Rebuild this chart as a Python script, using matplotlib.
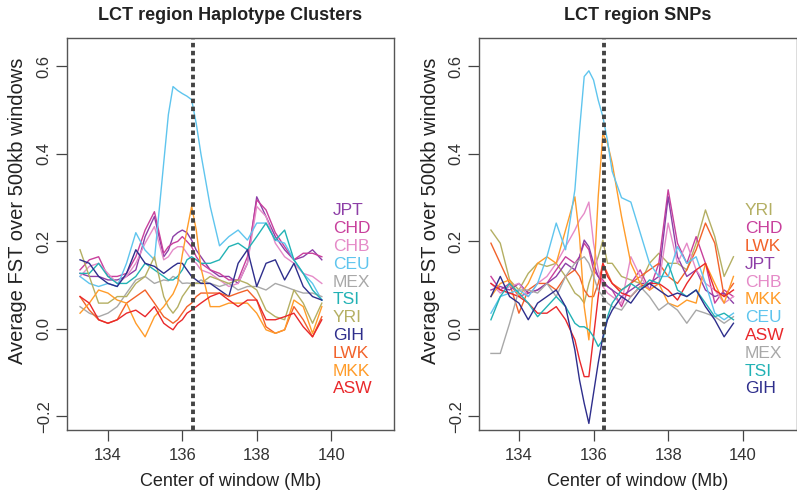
import matplotlib
matplotlib.use("Agg")
import matplotlib.pyplot as plt

plt.rcParams['font.family'] = ['Liberation Sans', 'DejaVu Sans']

# Centro de ventana (Mb), comun a todas las series
centro = [133.25, 133.5, 133.75, 134.0, 134.25, 134.5, 134.75, 135.0, 135.25, 135.5,
          135.625, 135.75, 135.875, 136.0, 136.125, 136.25, 136.375, 136.5,
          136.75, 137.0, 137.25, 137.5, 137.75, 138.0, 138.25, 138.5, 138.75,
          139.0, 139.25, 139.5, 139.75]

lct = 136.28  # posicion del gen LCT (linea discontinua)

# ------------------- Haplotype Clusters (panel izquierdo) -------------------
hap_jpt = [0.127, 0.120, 0.120, 0.112, 0.112, 0.120, 0.135, 0.211, 0.257, 0.165,
           0.180, 0.211, 0.220, 0.226, 0.220, 0.203, 0.180, 0.165,
           0.135, 0.120, 0.120, 0.104, 0.150, 0.302, 0.257, 0.211, 0.181, 0.158, 0.165, 0.181, 0.158]
hap_chd = [0.135, 0.158, 0.165, 0.120, 0.120, 0.127, 0.165, 0.226, 0.268, 0.173,
           0.188, 0.196, 0.200, 0.211, 0.200, 0.188, 0.165, 0.150,
           0.135, 0.127, 0.112, 0.112, 0.165, 0.295, 0.272, 0.220, 0.188, 0.158, 0.173, 0.173, 0.165]
hap_chb = [0.120, 0.143, 0.150, 0.127, 0.104, 0.120, 0.150, 0.196, 0.234, 0.158,
           0.165, 0.181, 0.188, 0.188, 0.173, 0.158, 0.150, 0.135,
           0.127, 0.112, 0.097, 0.104, 0.150, 0.280, 0.257, 0.196, 0.165, 0.150, 0.127, 0.120, 0.104]
hap_ceu = [0.120, 0.104, 0.097, 0.104, 0.097, 0.150, 0.220, 0.180, 0.158, 0.380,
           0.490, 0.554, 0.545, 0.538, 0.532, 0.524, 0.469, 0.400,
           0.280, 0.190, 0.211, 0.226, 0.203, 0.242, 0.242, 0.203, 0.196, 0.158, 0.127, 0.104, 0.066]
hap_mex = [0.051, 0.036, 0.028, 0.036, 0.051, 0.082, 0.112, 0.120, 0.104, 0.112,
           0.110, 0.120, 0.115, 0.104, 0.105, 0.104, 0.105, 0.112,
           0.104, 0.097, 0.104, 0.089, 0.097, 0.097, 0.089, 0.104, 0.097, 0.089, 0.082, 0.082, 0.074]
hap_tsi = [0.127, 0.127, 0.150, 0.120, 0.104, 0.104, 0.120, 0.150, 0.135, 0.120,
           0.112, 0.112, 0.120, 0.135, 0.158, 0.165, 0.158, 0.150,
           0.150, 0.158, 0.188, 0.196, 0.181, 0.211, 0.242, 0.203, 0.226, 0.158, 0.127, 0.089, 0.066]
hap_yri = [0.181, 0.120, 0.059, 0.059, 0.074, 0.074, 0.104, 0.120, 0.165, 0.074,
           0.050, 0.036, 0.050, 0.074, 0.089, 0.104, 0.104, 0.104,
           0.120, 0.112, 0.104, 0.112, 0.104, 0.089, 0.043, 0.028, 0.021, 0.089, 0.059, 0.013, 0.059]
hap_gih = [0.158, 0.150, 0.120, 0.104, 0.097, 0.127, 0.181, 0.150, 0.143, 0.127,
           0.135, 0.143, 0.150, 0.150, 0.135, 0.120, 0.112, 0.104,
           0.104, 0.089, 0.074, 0.150, 0.181, 0.097, 0.150, 0.158, 0.112, 0.150, 0.097, 0.074, 0.066]
hap_lwk = [0.074, 0.043, 0.021, 0.013, 0.021, 0.059, 0.074, 0.089, 0.059, 0.028,
           0.021, 0.013, 0.021, 0.036, 0.051, 0.059, 0.074, 0.082,
           0.082, 0.082, 0.074, 0.082, 0.089, 0.066, 0.005, -0.010, -0.002, 0.051, 0.021, -0.018, 0.028]
hap_mkk = [0.036, 0.059, 0.089, 0.082, 0.066, 0.059, 0.013, -0.018, 0.028, 0.051,
           0.066, 0.080, 0.104, 0.170, 0.226, 0.280, 0.226, 0.140,
           0.051, 0.051, 0.059, 0.059, 0.059, 0.036, -0.002, -0.010, -0.002, 0.066, 0.051, -0.010, 0.051]
hap_asw = [0.074, 0.059, 0.021, 0.013, 0.021, 0.036, 0.043, 0.028, 0.051, 0.013,
           0.005, -0.002, 0.013, 0.021, 0.036, 0.043, 0.051, 0.059,
           0.074, 0.082, 0.066, 0.051, 0.066, 0.066, 0.021, 0.021, 0.028, 0.036, 0.005, -0.018, 0.021]

# ------------------- SNPs (panel derecho) -------------------
snp_yri = [0.226, 0.196, 0.112, 0.089, 0.127, 0.150, 0.143, 0.150, 0.120, 0.082,
           0.074, 0.059, 0.104, 0.135, 0.165, 0.203, 0.150, 0.150,
           0.120, 0.112, 0.104, 0.150, 0.173, 0.150, 0.150, 0.135, 0.196, 0.272, 0.211, 0.120, 0.165]
snp_chd = [0.120, 0.089, 0.104, 0.074, 0.082, 0.089, 0.104, 0.135, 0.165, 0.150,
           0.165, 0.196, 0.181, 0.135, 0.120, 0.112, 0.097, 0.089,
           0.051, 0.104, 0.135, 0.089, 0.150, 0.318, 0.196, 0.150, 0.211, 0.150, 0.059, 0.089, 0.074]
snp_lwk = [0.196, 0.150, 0.104, 0.036, 0.089, 0.104, 0.104, 0.089, 0.120, 0.135,
           0.120, 0.089, 0.074, 0.074, 0.104, 0.150, 0.127, 0.104,
           0.089, 0.104, 0.120, 0.135, 0.150, 0.120, 0.104, 0.135, 0.181, 0.242, 0.196, 0.074, 0.104]
snp_jpt = [0.089, 0.097, 0.089, 0.104, 0.082, 0.089, 0.104, 0.120, 0.150, 0.135,
           0.165, 0.203, 0.188, 0.150, 0.120, 0.104, 0.097, 0.089,
           0.074, 0.089, 0.104, 0.104, 0.120, 0.302, 0.165, 0.120, 0.135, 0.089, 0.074, 0.082, 0.059]
snp_chb = [0.104, 0.082, 0.097, 0.104, 0.074, 0.104, 0.120, 0.150, 0.188, 0.226,
           0.249, 0.264, 0.290, 0.196, 0.135, 0.097, 0.082, 0.074,
           0.059, 0.165, 0.120, 0.089, 0.104, 0.242, 0.150, 0.196, 0.135, 0.104, 0.089, 0.059, 0.074]
snp_mkk = [0.074, 0.104, 0.112, 0.074, 0.104, 0.150, 0.165, 0.150, 0.226, 0.302,
           0.211, 0.051, -0.025, 0.104, 0.302, 0.447, 0.424, 0.379,
           0.257, 0.150, 0.104, 0.089, 0.104, 0.059, 0.051, 0.066, 0.059, 0.150, 0.104, 0.059, 0.120]
snp_ceu = [0.036, 0.074, 0.082, 0.089, 0.074, 0.104, 0.165, 0.242, 0.181, 0.318,
           0.455, 0.577, 0.590, 0.569, 0.523, 0.485, 0.430, 0.360,
           0.300, 0.290, 0.220, 0.150, 0.120, 0.120, 0.188, 0.150, 0.165, 0.104, 0.036, 0.021, 0.036]
snp_asw = [0.104, 0.089, 0.082, 0.074, 0.059, 0.036, 0.036, 0.051, 0.021, -0.025,
           -0.071, -0.109, -0.109, -0.018, 0.074, 0.150, 0.120, 0.104,
           0.082, 0.074, 0.097, 0.104, 0.104, 0.089, 0.066, 0.104, 0.135, 0.150, 0.089, 0.074, 0.089]
snp_mex = [-0.056, -0.056, 0.013, 0.089, 0.089, 0.082, 0.104, 0.074, 0.120, 0.150,
           0.158, 0.165, 0.150, 0.120, 0.089, 0.074, 0.059, 0.051,
           0.043, 0.074, 0.097, 0.074, 0.043, 0.059, 0.043, 0.013, 0.043, 0.036, 0.028, 0.013, 0.028]
snp_tsi = [0.021, 0.074, 0.104, 0.082, 0.059, 0.028, 0.051, 0.074, 0.051, 0.013,
           0.005, 0.005, -0.002, -0.018, -0.040, -0.025, 0.028, 0.059,
           0.089, 0.104, 0.089, 0.112, 0.104, 0.150, 0.089, 0.074, 0.089, 0.059, 0.028, 0.036, 0.021]
snp_gih = [0.074, 0.120, 0.074, 0.059, 0.021, 0.059, 0.074, 0.089, 0.051, -0.048,
           -0.117, -0.170, -0.216, -0.147, -0.078, -0.018, 0.021, 0.043,
           0.074, 0.059, 0.089, 0.104, 0.089, 0.074, 0.082, 0.074, 0.089, 0.051, 0.021, -0.018, 0.013]

# Colores por poblacion
colores = {
    'JPT': '#8d3fa7', 'CHD': '#c8409c', 'CHB': '#e58bc8', 'CEU': '#5fc5ee',
    'MEX': '#a8a8a8', 'TSI': '#22b2b5', 'YRI': '#b4af63', 'GIH': '#2e2e8c',
    'LWK': '#f2622a', 'MKK': '#ff9c2a', 'ASW': '#e9282b',
}

paneles = [
    ("LCT region Haplotype Clusters",
     [('JPT', hap_jpt), ('CHD', hap_chd), ('CHB', hap_chb), ('CEU', hap_ceu),
      ('MEX', hap_mex), ('TSI', hap_tsi), ('YRI', hap_yri), ('GIH', hap_gih),
      ('LWK', hap_lwk), ('MKK', hap_mkk), ('ASW', hap_asw)],
     [67, 394], (132.9, 141.69)),
    ("LCT region SNPs",
     [('YRI', snp_yri), ('CHD', snp_chd), ('LWK', snp_lwk), ('JPT', snp_jpt),
      ('CHB', snp_chb), ('MKK', snp_mkk), ('CEU', snp_ceu), ('ASW', snp_asw),
      ('MEX', snp_mex), ('TSI', snp_tsi), ('GIH', snp_gih)],
     [479, 796.5], (132.93, 141.44)),
]

W, H = 797, 492
fig = plt.figure(figsize=(W / 100, H / 100), dpi=100)

for titulo, series, (px0, px1), xlim in paneles:
    ax = fig.add_axes([px0 / W, 1 - 430 / H, (px1 - px0) / W, (430 - 38) / H])
    for nombre, valores in series:
        ax.plot(centro, valores, color=colores[nombre], lw=1.0)
    ax.axvline(lct, color='#444444', lw=2.8, dashes=(1.15, 0.9))

    # etiquetas de poblaciones a la derecha
    for i, (nombre, _) in enumerate(series):
        ax.text(140.05, 0.27 - i * 0.0407, nombre, color=colores[nombre],
                fontsize=12.5, va='center', ha='left')

    ax.set_xlim(*xlim)
    ax.set_ylim(-0.231, 0.665)
    ax.set_xticks([134, 136, 138, 140])
    ax.set_yticks([-0.2, 0.0, 0.2, 0.4, 0.6])
    ax.set_yticklabels(['\u22120.2', '0.0', '0.2', '0.4', '0.6'], rotation=90, va='center')
    ax.tick_params(length=8, width=0.9, color='#444444', labelsize=12,
                   labelcolor='#333333')
    ax.tick_params(axis='x', pad=5)
    ax.tick_params(axis='y', pad=3)
    for s in ax.spines.values():
        s.set_color('#555555')
        s.set_linewidth(1.0)

    cx = (px0 + px1) / 2 / W
    fig.text(cx, 1 - 15 / H, titulo, ha='center', va='center',
             fontsize=13, fontweight='bold', color='#222222')
    fig.text(cx, 1 - 481 / H, "Center of window (Mb)", ha='center', va='center',
             fontsize=13, color='#222222')
    fig.text((px0 - 49) / W, 1 - 211 / H, "Average FST over 500kb windows",
             rotation=90, ha='center', va='center', fontsize=14.5, color='#222222')

fig.savefig("out.png", dpi=100)
